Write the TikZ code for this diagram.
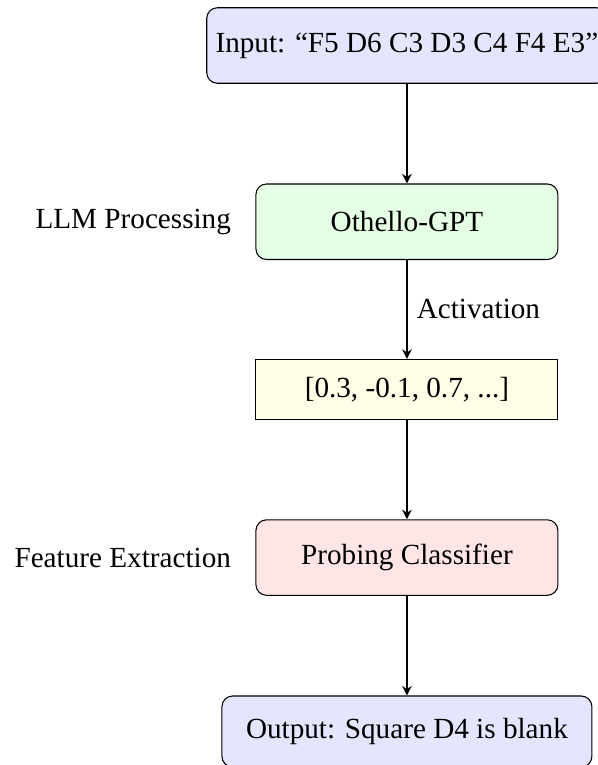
\documentclass[tikz,border=0pt]{standalone}
\usepackage{fontspec}
\setmainfont{Liberation Serif}
\usetikzlibrary{positioning}
\usetikzlibrary{arrows.meta}

\begin{document}
\begin{tikzpicture}[
    node distance=1.32cm,
    font=\fontsize{11}{13}\selectfont,
    stage/.style={draw, rounded corners, minimum width=4cm, minimum height=1cm},
    vecbox/.style={draw, fill=yellow!10, minimum width=4cm, minimum height=0.8cm}]
    \useasboundingbox (-5.39,0.603) rectangle (2.53,-9.53);
    \node[stage, fill=blue!10] (input) {Input: ``F5 D6 C3 D3 C4 F4 E3''};
    \node[stage, fill=green!10, below=of input] (gpt) {Othello-GPT};
    \node[vecbox, below=1.31cm of gpt] (vec) {[0.3, -0.1, 0.7, ...]};
    \node[stage, fill=red!10, below=1.31cm of vec] (probe) {Probing Classifier};
    \node[stage, fill=blue!10, minimum width=4.9cm, minimum height=0.94cm,
          below=of probe] (output) {Output: Square D4 is blank};
    \node[left=0.2cm of gpt] (llm) {LLM Processing};
    \node[left=0.2cm of probe] (feat) {Feature Extraction};
    \path[-{Stealth[length=3.6pt, width=3.6pt]}, thick]
    (input) edge (gpt)
    (gpt)   edge node[right] {Activation} (vec)
    (vec)   edge (probe)
    (probe) edge (output);
\end{tikzpicture}
\end{document}
